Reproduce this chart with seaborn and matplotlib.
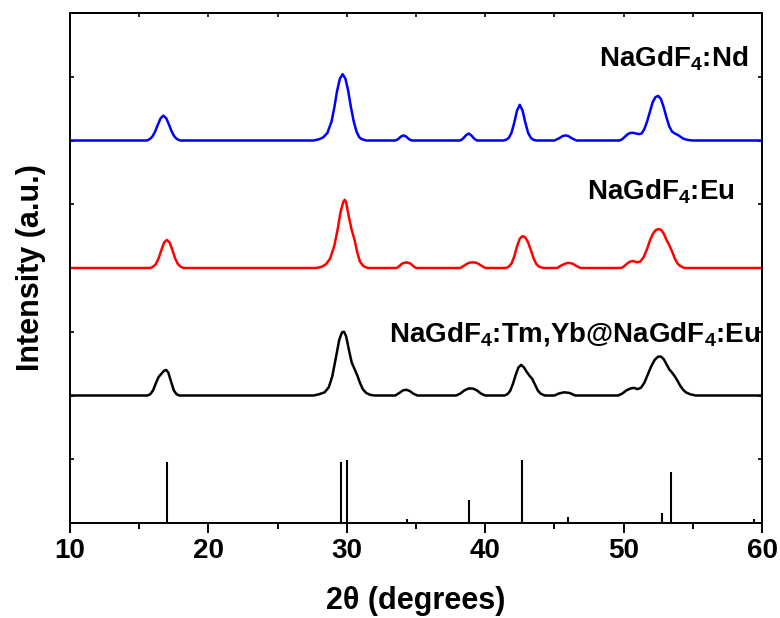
import matplotlib
matplotlib.use("Agg")
import matplotlib.pyplot as plt
from matplotlib import font_manager
import numpy as np
import pandas as pd
import seaborn as sns

# ---- data -------------------------------------------------------------
# NaGdF4:Nd pattern (relative intensity above its own baseline)
nd_2theta = [10.0, 15.55, 15.75, 15.95, 16.15, 16.35, 16.55, 16.75, 16.95, 17.15,
             17.35, 17.55, 17.75, 17.95,
             27.6, 28.0, 28.3, 28.6, 28.9, 29.1, 29.3, 29.5, 29.7, 29.9,
             30.1, 30.3, 30.5, 30.7, 30.9, 31.1, 31.4,
             33.5, 33.7, 33.9, 34.1, 34.3, 34.5, 34.7,
             38.2, 38.4, 38.6, 38.8, 39.0, 39.2, 39.4,
             41.3, 41.5, 41.7, 41.9, 42.1, 42.3, 42.5, 42.7, 42.9, 43.1,
             43.3, 43.5, 43.7,
             45.0, 45.3, 45.6, 45.8, 46.0, 46.3, 46.6,
             49.7, 49.9, 50.1, 50.3, 50.5, 50.7, 50.9, 51.1, 51.3, 51.5,
             51.7, 51.9, 52.1, 52.3, 52.5, 52.7, 52.9, 53.1, 53.3, 53.5,
             53.7, 53.9, 54.1, 54.3, 54.6, 55.0, 60.0]
nd_intensity = [0.0, 0.0, 0.02, 0.06, 0.14, 0.25, 0.35, 0.39, 0.35, 0.25,
                0.14, 0.06, 0.02, 0.0,
                0.0, 0.02, 0.05, 0.12, 0.30, 0.52, 0.78, 0.97, 1.04, 0.97,
                0.78, 0.52, 0.30, 0.14, 0.05, 0.02, 0.0,
                0.0, 0.02, 0.06, 0.08, 0.06, 0.02, 0.0,
                0.0, 0.03, 0.08, 0.11, 0.08, 0.03, 0.0,
                0.0, 0.01, 0.04, 0.12, 0.28, 0.47, 0.56, 0.47, 0.28, 0.12,
                0.04, 0.01, 0.0,
                0.0, 0.03, 0.07, 0.08, 0.07, 0.03, 0.0,
                0.0, 0.02, 0.06, 0.10, 0.12, 0.12, 0.11, 0.10, 0.11, 0.18,
                0.30, 0.45, 0.60, 0.68, 0.70, 0.65, 0.52, 0.36, 0.22, 0.14,
                0.11, 0.09, 0.06, 0.03, 0.01, 0.0, 0.0]

# NaGdF4:Eu pattern
eu_2theta = [10.0, 15.8, 16.0, 16.2, 16.4, 16.6, 16.8, 17.0, 17.2, 17.4,
             17.6, 17.8, 18.0, 18.2,
             27.8, 28.2, 28.5, 28.8, 29.1, 29.35, 29.55, 29.75, 29.85, 29.95,
             30.15, 30.35, 30.55, 30.75, 30.95, 31.2, 31.5,
             33.6, 33.8, 34.0, 34.3, 34.6, 34.8, 35.0,
             38.2, 38.5, 38.8, 39.1, 39.4, 39.7, 40.0,
             41.5, 41.7, 41.9, 42.1, 42.3, 42.5, 42.7, 42.9, 43.1, 43.3,
             43.5, 43.7, 43.9, 44.2,
             45.2, 45.5, 45.8, 46.0, 46.3, 46.6, 46.9,
             49.8, 50.0, 50.2, 50.45, 50.7, 50.95, 51.2, 51.45, 51.7, 51.9,
             52.1, 52.3, 52.5, 52.7, 52.9, 53.1, 53.3, 53.5, 53.7, 53.9,
             54.1, 54.4, 60.0]
eu_intensity = [0.0, 0.0, 0.02, 0.06, 0.15, 0.28, 0.40, 0.44, 0.40, 0.28,
                0.15, 0.06, 0.02, 0.0,
                0.0, 0.02, 0.06, 0.15, 0.35, 0.62, 0.88, 1.04, 1.07, 1.03,
                0.80, 0.60, 0.45, 0.25, 0.10, 0.03, 0.0,
                0.0, 0.03, 0.07, 0.09, 0.07, 0.03, 0.0,
                0.0, 0.04, 0.08, 0.09, 0.08, 0.04, 0.0,
                0.0, 0.02, 0.07, 0.18, 0.34, 0.46, 0.50, 0.48, 0.40, 0.28,
                0.15, 0.06, 0.02, 0.0,
                0.0, 0.04, 0.07, 0.08, 0.07, 0.03, 0.0,
                0.0, 0.02, 0.06, 0.10, 0.11, 0.09, 0.10, 0.17, 0.30, 0.43,
                0.53, 0.59, 0.61, 0.60, 0.54, 0.44, 0.36, 0.26, 0.15, 0.07,
                0.03, 0.0, 0.0]

# NaGdF4:Tm,Yb@NaGdF4:Eu pattern
cs_2theta = [10.0, 15.6, 15.8, 16.0, 16.2, 16.4, 16.6, 16.8, 16.95, 17.1,
             17.3, 17.5, 17.7, 17.9,
             27.6, 28.0, 28.4, 28.7, 28.95, 29.2, 29.45, 29.65, 29.8, 29.95,
             30.15, 30.35, 30.55, 30.75, 30.95, 31.15, 31.4, 31.7, 32.0,
             33.5, 33.8, 34.05, 34.3, 34.55, 34.8, 35.1,
             37.9, 38.2, 38.5, 38.8, 39.1, 39.4, 39.7, 40.0,
             41.4, 41.6, 41.8, 42.0, 42.2, 42.4, 42.6, 42.8, 43.0, 43.2,
             43.4, 43.6, 43.8, 44.0, 44.3,
             45.0, 45.3, 45.7, 46.1, 46.5,
             49.6, 49.9, 50.2, 50.5, 50.75, 51.0, 51.25, 51.5, 51.75, 52.0,
             52.25, 52.5, 52.7, 52.9, 53.1, 53.3, 53.5, 53.7, 53.9, 54.1,
             54.3, 54.5, 54.8, 55.2, 60.0]
cs_intensity = [0.0, 0.0, 0.02, 0.08, 0.19, 0.29, 0.34, 0.39, 0.40, 0.36,
                0.22, 0.08, 0.02, 0.0,
                0.0, 0.02, 0.05, 0.13, 0.30, 0.58, 0.87, 0.99, 1.00, 0.93,
                0.72, 0.52, 0.42, 0.32, 0.20, 0.10, 0.04, 0.01, 0.0,
                0.0, 0.04, 0.08, 0.09, 0.07, 0.03, 0.0,
                0.0, 0.03, 0.08, 0.11, 0.11, 0.08, 0.03, 0.0,
                0.0, 0.02, 0.07, 0.18, 0.32, 0.44, 0.48, 0.44, 0.37, 0.31,
                0.26, 0.17, 0.08, 0.03, 0.0,
                0.0, 0.03, 0.05, 0.04, 0.0,
                0.0, 0.03, 0.08, 0.11, 0.12, 0.10, 0.12, 0.20, 0.33, 0.46,
                0.56, 0.61, 0.61, 0.57, 0.49, 0.41, 0.36, 0.30, 0.23, 0.15,
                0.09, 0.05, 0.02, 0.0, 0.0]

# standard reference lines (position, relative intensity)
ref_2theta = [17.0, 29.6, 30.0, 34.35, 38.85, 42.65, 46.0, 52.8, 53.4, 59.4]
ref_intensity = [0.95, 0.95, 0.99, 0.06, 0.36, 0.99, 0.10, 0.15, 0.80, 0.06]

labels = ["NaGdF$_4$:Nd", "NaGdF$_4$:Eu", "NaGdF$_4$:Tm,Yb@NaGdF$_4$:Eu"]

# ---- style ------------------------------------------------------------
sns.set_style("white")
installed = {f.name for f in font_manager.fontManager.ttflist}
family = ["Liberation Sans Narrow"] if "Liberation Sans Narrow" in installed else ["Liberation Sans"]
plt.rcParams["font.family"] = family + ["DejaVu Sans"]
plt.rcParams["font.weight"] = "bold"
plt.rcParams["mathtext.default"] = "regular"
plt.rcParams["text.color"] = "black"
plt.rcParams["axes.labelcolor"] = "black"
plt.rcParams["xtick.color"] = "black"
plt.rcParams["ytick.color"] = "black"

fig = plt.figure(figsize=(7.8, 6.18), dpi=100)
ax = fig.add_axes([70 / 780, 1 - 523 / 618, 692 / 780, 510 / 618])

series = [
    (nd_2theta, nd_intensity, 6.0, "#0000ff"),
    (eu_2theta, eu_intensity, 4.0, "#ff0000"),
    (cs_2theta, cs_intensity, 2.0, "#000000"),
]
for tt, inten, base, color in series:
    df = pd.DataFrame({"2theta": tt, "I": np.asarray(inten) + base})
    sns.lineplot(data=df, x="2theta", y="I", ax=ax, color=color, lw=1.8,
                 sort=False, estimator=None)

ax.vlines(ref_2theta, 0, ref_intensity, color="black", lw=1.5)

# sample labels
ax.text(59.0, 7.16, labels[0], ha="right", va="baseline", fontsize=20, fontweight="bold")
ax.text(58.05, 5.07, labels[1], ha="right", va="baseline", fontsize=20, fontweight="bold")
ax.text(59.9, 2.85, labels[2], ha="right", va="baseline", fontsize=20, fontweight="bold")

ax.set_xlim(10, 60)
ax.set_ylim(0, 8)
ax.set_xticks([10, 20, 30, 40, 50, 60])
ax.set_xticks([15, 25, 35, 45, 55], minor=True)
ax.set_yticks(np.arange(0, 9, 1))
ax.set_yticklabels([])
ax.tick_params(axis="x", which="major", direction="out", length=7, width=1.4,
               labelsize=20, pad=4, bottom=True)
ax.tick_params(axis="x", which="minor", direction="out", length=4, width=1.4, bottom=True)
ax.tick_params(axis="y", which="major", direction="in", length=3, width=1.2,
               left=True, right=True)
for lab in ax.get_xticklabels():
    lab.set_fontweight("bold")

top = ax.secondary_xaxis("top")
top.set_xticks(np.arange(10, 61, 5))
top.set_xticklabels([])
top.tick_params(direction="in", length=3, width=1.2)

for sp in list(ax.spines.values()) + list(top.spines.values()):
    sp.set_linewidth(1.4)
    sp.set_color("black")

ax.set_xlabel("2\u03b8 (degrees)", fontsize=22, fontweight="bold", labelpad=16)
ax.set_ylabel("Intensity (a.u.)", fontsize=22, fontweight="bold", labelpad=14)

fig.savefig("out.png", dpi=100)
